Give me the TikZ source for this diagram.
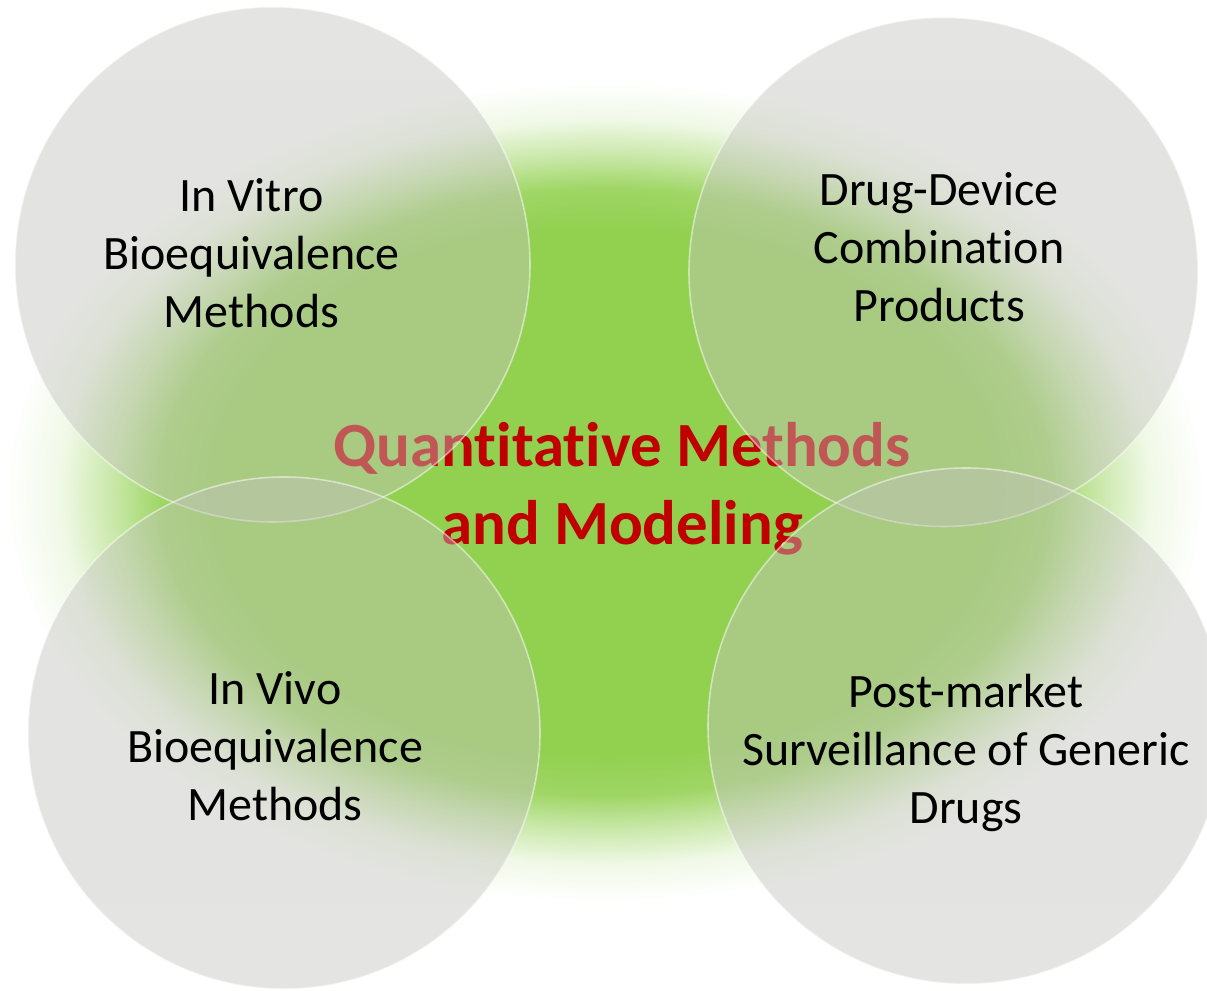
\documentclass[tikz,border=0pt]{standalone}
\usepackage{fontspec}
\setmainfont{Carlito}[Ligatures=NoCommon]
\usepackage{tikz}
\definecolor{qmGreen}{HTML}{92D050}
\definecolor{qmRed}{HTML}{C00000}
\definecolor{qmGray}{HTML}{C3C3BE}
% soft edged green blob behind everything
\pgfdeclareradialshading{greenglow}{\pgfpointorigin}{%
  color(0bp)=(qmGreen); color(16bp)=(qmGreen);
  color(18.5bp)=(qmGreen!88!white); color(20.5bp)=(qmGreen!50!white);
  color(22.7bp)=(qmGreen!14!white); color(25bp)=(white); color(50bp)=(white)}
\tikzset{
  bubble/.style={
    circle, fill=qmGray, fill opacity=0.45,
    draw=white, draw opacity=0.5, line width=0.9pt,
    minimum size=#1, inner sep=0pt
  },
  topic/.style={align=center, text=black, inner sep=0pt,
    font=\fontsize{27.3pt}{33pt}\selectfont},
  headline/.style={align=center, text=qmRed, inner sep=0pt,
    font=\fontsize{35.8pt}{44.4pt}\selectfont\bfseries}
}

\begin{document}
\begin{tikzpicture}
\useasboundingbox (0,0) rectangle (24.14,19.80);

\shade[shading=greenglow] (0.10,1.76) rectangle (24.10,18.16);

\node[headline] (title) at (12.44,10.03) {Quantitative Methods\\and Modeling};

\node[bubble=10.30cm] (vitro) at (5.45,14.51) {};
\node[bubble=10.18cm] (device) at (18.87,14.36) {};
\node[bubble=10.24cm] (vivo) at (5.68,5.14) {};
\node[bubble=10.32cm] (market) at (19.32,5.28) {};

\node[topic] (vitrotext) at (5.03,14.74) {In Vitro\\Bioequivalence\\Methods};
\node[topic] (devicetext) at (18.78,14.86) {Drug-Device\\Combination\\Products};
\node[topic] (vivotext) at (5.50,4.88) {In Vivo\\Bioequivalence\\Methods};
\node[topic] (markettext) at (19.32,4.75) {Post-market\\Surveillance of Generic\\Drugs};

\end{tikzpicture}
\end{document}
